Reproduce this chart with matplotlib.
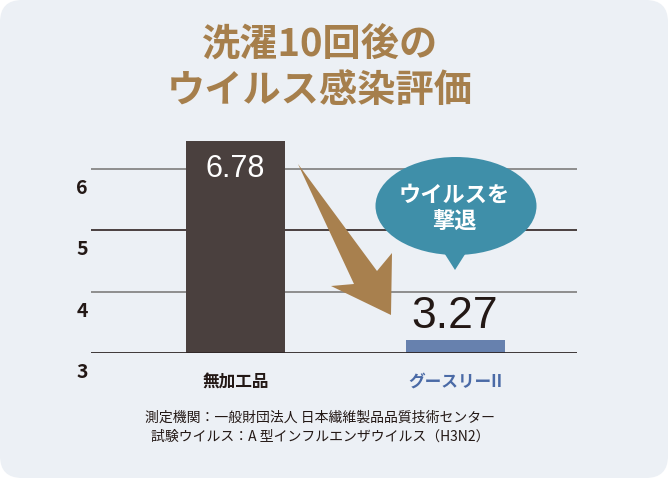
"""Virus infection evaluation after 10 washes."""

import matplotlib
matplotlib.use("Agg")
import matplotlib.pyplot as plt
from matplotlib.patches import FancyBboxPatch, Polygon, Ellipse
from matplotlib.transforms import blended_transform_factory

CJK = ["Noto Sans CJK JP", "DejaVu Sans"]

# data
categories = ["無加工品", "グースリーII"]
values = [6.78, 3.27]
value_labels = ["6.78", "3.27"]
tick_values = [3, 4, 5, 6]
title_lines = ["洗濯10回後の", "ウイルス感染評価"]
notes = ["測定機関：一般財団法人 日本繊維製品品質技術センター",
         "試験ウイルス：A 型インフルエンザウイルス（H3N2）"]
bubble_text = "ウイルスを\n撃退"

# styling
BG = "#ecf0f5"
GOLD = "#a67f4c"
TEAL = "#3f8fa9"
bar_colors = ["#4a403e", "#6781ae"]
label_colors = ["#231815", "#4a6aa6"]
grid_colors = ["#2e2626", "#8e8e8e", "#4a4040", "#8e8e8e"]
axis_floor = 3.325      # value at the drawn baseline
stub = 0.21             # minimum visible bar height

W, H = 668, 478
fig = plt.figure(figsize=(W / 100, H / 100), dpi=100)
fig.patch.set_facecolor("white")

# background layer in pixel coordinates
bg = fig.add_axes([0, 0, 1, 1], zorder=0)
bg.set_xlim(0, W)
bg.set_ylim(H, 0)
bg.axis("off")
bg.add_patch(FancyBboxPatch((0, 0), W, H, boxstyle="round,pad=0,rounding_size=22",
                            facecolor=BG, edgecolor="none"))

# chart axes: 61.5 px per unit, baseline at y=353
ppu = 61.5
x0, x1 = 91, 577
y_base, y_top = 353, 100
ax = fig.add_axes([x0 / W, (H - y_base) / H, (x1 - x0) / W, (y_base - y_top) / H], zorder=1)
ax.patch.set_alpha(0)
ax.set_ylim(axis_floor, axis_floor + (y_base - y_top) / ppu)
xppu = 219.5
ax.set_xlim((x0 - 235.5) / xppu, (x1 - 235.5) / xppu)
for s in ax.spines.values():
    s.set_visible(False)
ax.set_yticks([])

for k, c in enumerate(grid_colors):
    ax.axhline(axis_floor + k, color=c, lw=2.0 if k == 0 else 1.4, zorder=3 if k == 0 else 0)

xs = list(range(len(categories)))
heights = [max(v - axis_floor, stub) for v in values]
ax.bar(xs, heights, bottom=axis_floor, width=99 / xppu, color=bar_colors, zorder=2)

tops = [axis_floor + h for h in heights]
ax.text(xs[0], tops[0] - 0.47, value_labels[0], ha="center", va="center",
        color="white", fontsize=22, family="Liberation Sans", zorder=4)
ax.text(xs[1], tops[1] + 0.39, value_labels[1], ha="center", va="center",
        color="#231815", fontsize=32, family="Liberation Sans", zorder=4)

tr = blended_transform_factory(ax.transAxes, ax.transData)
for t in tick_values:
    ax.text((82 - x0) / (x1 - x0), t, str(t), transform=tr, ha="center", va="center",
            fontsize=14, fontweight="bold", family=CJK, color="#231815", clip_on=False)

ax.set_xticks(xs)
ax.set_xticklabels(categories, fontsize=12, fontweight="bold", family=CJK)
ax.tick_params(axis="x", length=0, pad=14)
for lbl, c in zip(ax.get_xticklabels(), label_colors):
    lbl.set_color(c)

# foreground layer: title, arrow, speech bubble, notes
fg = fig.add_axes([0, 0, 1, 1], zorder=2)
fg.set_xlim(0, W)
fg.set_ylim(H, 0)
fg.axis("off")
fg.patch.set_alpha(0)

fg.text(320, 44, title_lines[0], ha="center", va="center", fontsize=27.5,
        fontweight="bold", color=GOLD, family=CJK)
fg.text(320, 90, title_lines[1], ha="center", va="center", fontsize=27.5,
        fontweight="bold", color=GOLD, family=CJK)

fg.add_patch(Polygon([(298, 164), (377, 271), (392, 253), (391, 315), (331, 286), (354, 284)],
                     closed=True, facecolor="#a8804e", edgecolor="none"))

fg.add_patch(Ellipse((456, 206), 161, 98, facecolor=TEAL, edgecolor="none"))
fg.add_patch(Polygon([(441, 248), (469, 248), (455, 270)], closed=True,
                     facecolor=TEAL, edgecolor="none"))
fg.text(454, 208, bubble_text, ha="center", va="center", fontsize=16, fontweight="bold",
        color="white", family=CJK, linespacing=1.15)

fg.text(320, 418, notes[0], ha="center", va="center", fontsize=10, color="#231815", family=CJK)
fg.text(320, 437, notes[1], ha="center", va="center", fontsize=10, color="#231815", family=CJK)

fig.savefig("out.png", dpi=100, facecolor=fig.get_facecolor())
plt.close(fig)
